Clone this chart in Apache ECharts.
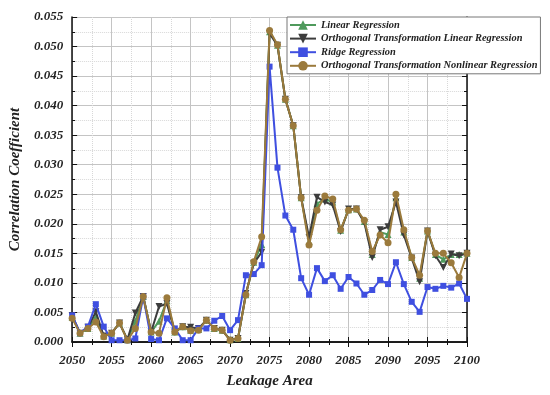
<!DOCTYPE html>
<html><head><meta charset="utf-8">
<script src="https://cdn.jsdelivr.net/npm/echarts@6/dist/echarts.min.js"></script>
<style>html,body{margin:0;padding:0;background:#fff}#c{width:550px;height:395px}</style>
</head><body><div id="c"></div>
<script>
const years = [];
for (let y = 2050; y <= 2100; y++) years.push(y);
const seriesNames = ['Linear Regression','Orthogonal Transformation Linear Regression','Ridge Regression','Orthogonal Transformation Nonlinear Regression'];
const linearReg = [0.0042,0.0015,0.0023,0.0042,0.0010,0.0015,0.0032,0.0004,0.0035,0.0077,0.0017,0.0035,0.0070,0.0017,0.0026,0.0020,0.0021,0.0037,0.0023,0.0020,0.0004,0.0006,0.0080,0.0135,0.0165,0.0525,0.0502,0.0411,0.0366,0.0244,0.0170,0.0234,0.0242,0.0237,0.0189,0.0224,0.0225,0.0204,0.0148,0.0186,0.0182,0.0244,0.0186,0.0143,0.0108,0.0188,0.0148,0.0140,0.0148,0.0148,0.0150];
const orthoLinear = [0.0045,0.0015,0.0025,0.0051,0.0010,0.0015,0.0032,0.0004,0.0049,0.0077,0.0017,0.0060,0.0065,0.0017,0.0026,0.0025,0.0023,0.0037,0.0023,0.0020,0.0003,0.0006,0.0082,0.0133,0.0152,0.0522,0.0502,0.0411,0.0366,0.0244,0.0177,0.0245,0.0237,0.0232,0.0187,0.0225,0.0225,0.0202,0.0143,0.0190,0.0195,0.0237,0.0181,0.0142,0.0102,0.0188,0.0146,0.0126,0.0149,0.0146,0.0150];
const ridgeReg = [0.0045,0.0015,0.0026,0.0064,0.0026,0.0003,0.0003,0.0003,0.0006,0.0077,0.0005,0.0003,0.0040,0.0023,0.0003,0.0003,0.0023,0.0023,0.0036,0.0044,0.0020,0.0037,0.0113,0.0115,0.0130,0.0466,0.0295,0.0214,0.0190,0.0108,0.0080,0.0125,0.0103,0.0113,0.0090,0.0110,0.0099,0.0080,0.0088,0.0105,0.0098,0.0135,0.0098,0.0068,0.0051,0.0093,0.0090,0.0095,0.0092,0.0099,0.0073];
const orthoNonlinear = [0.0040,0.0015,0.0023,0.0034,0.0009,0.0015,0.0032,0.0003,0.0023,0.0077,0.0017,0.0015,0.0075,0.0017,0.0026,0.0019,0.0020,0.0037,0.0023,0.0020,0.0003,0.0006,0.0080,0.0136,0.0178,0.0527,0.0503,0.0411,0.0366,0.0244,0.0164,0.0223,0.0247,0.0242,0.0190,0.0223,0.0225,0.0206,0.0153,0.0181,0.0168,0.0250,0.0190,0.0143,0.0113,0.0188,0.0150,0.0150,0.0134,0.0109,0.0150];
const xTicks = [2050,2055,2060,2065,2070,2075,2080,2085,2090,2095,2100];

const font = 'Liberation Serif';
const pair = arr => years.map((y,i)=>[y, arr[i]]);
const chart = echarts.init(document.getElementById('c'), null, {renderer:'canvas'});
const colors = ['#4f9a5c','#3c3c3c','#3f4fe0','#9b7a3c'];
const symbols = ['triangle','triangle','rect','circle'];
const rot = [0,180,0,0];
const dataArr = [linearReg, orthoLinear, ridgeReg, orthoNonlinear];
const series = dataArr.map((d,i)=>({
  name: seriesNames[i], type:'line', data: pair(d),
  symbol: symbols[i], symbolRotate: rot[i], symbolSize: i===2?6:7,
  showAllSymbol:true,
  lineStyle:{color:colors[i], width:2}, itemStyle:{color:colors[i]},
  z: i+2
}));
const axisLine = {show:true, lineStyle:{color:'#111', width:1.5}};
chart.setOption({
  animation:false,
  grid:{left:64, right:83, top:17, bottom:53, containLabel:false},
  legend:{
    orient:'vertical', left:287, top:17, data:seriesNames,
    backgroundColor:'#fff', borderColor:'#777', borderWidth:1,
    padding:[2,3,2,2], itemGap:1.6, itemWidth:26, itemHeight:12,
    textStyle:{fontFamily:font, fontWeight:'bold', fontStyle:'italic', fontSize:10.4, color:'#222', lineHeight:12}
  },
  xAxis:[{
    type:'value', min:2050, max:2100, interval:5,
    name:'Leakage Area', nameLocation:'middle', nameGap:32,
    nameTextStyle:{fontFamily:font, fontWeight:'bold', fontStyle:'italic', fontSize:15, color:'#222'},
    axisLine: axisLine,
    axisTick:{show:true, inside:true, length:5, lineStyle:{color:'#111'}},
    minorTick:{show:true, splitNumber:2, length:3, lineStyle:{color:'#111'}},
    axisLabel:{fontFamily:font, fontWeight:'bold', fontStyle:'italic', fontSize:13, color:'#222', margin:12, formatter:v=>String(v)},
    splitLine:{show:true, lineStyle:{color:'#c4c4c4', width:1}},
    minorSplitLine:{show:true, lineStyle:{color:'#d8d8d8', width:1, type:'dotted'}}
  },{
    type:'value', position:'top', min:2050, max:2100, interval:5,
    axisLine: axisLine, axisTick:{show:true, inside:true, length:5, lineStyle:{color:'#111'}},
    minorTick:{show:true, splitNumber:2, length:3}, axisLabel:{show:false}, splitLine:{show:false}
  }],
  yAxis:[{
    type:'value', min:0, max:0.055, interval:0.005,
    name:'Correlation Coefficient', nameLocation:'middle', nameGap:46,
    nameTextStyle:{fontFamily:font, fontWeight:'bold', fontStyle:'italic', fontSize:15, color:'#222'},
    axisLine: axisLine,
    axisTick:{show:true, inside:true, length:5, lineStyle:{color:'#111'}},
    minorTick:{show:true, splitNumber:2, length:3, lineStyle:{color:'#111'}},
    axisLabel:{fontFamily:font, fontWeight:'bold', fontStyle:'italic', fontSize:13, color:'#222', margin:9, formatter:v=>v.toFixed(3)},
    splitLine:{show:true, lineStyle:{color:'#c4c4c4', width:1}},
    minorSplitLine:{show:true, lineStyle:{color:'#d8d8d8', width:1, type:'dotted'}}
  },{
    type:'value', position:'right', min:0, max:0.055, interval:0.005,
    axisLine: axisLine, axisTick:{show:true, inside:true, length:5, lineStyle:{color:'#111'}},
    minorTick:{show:true, splitNumber:2, length:3}, axisLabel:{show:false}, splitLine:{show:false}
  }],
  series: series
});
</script></body></html>
